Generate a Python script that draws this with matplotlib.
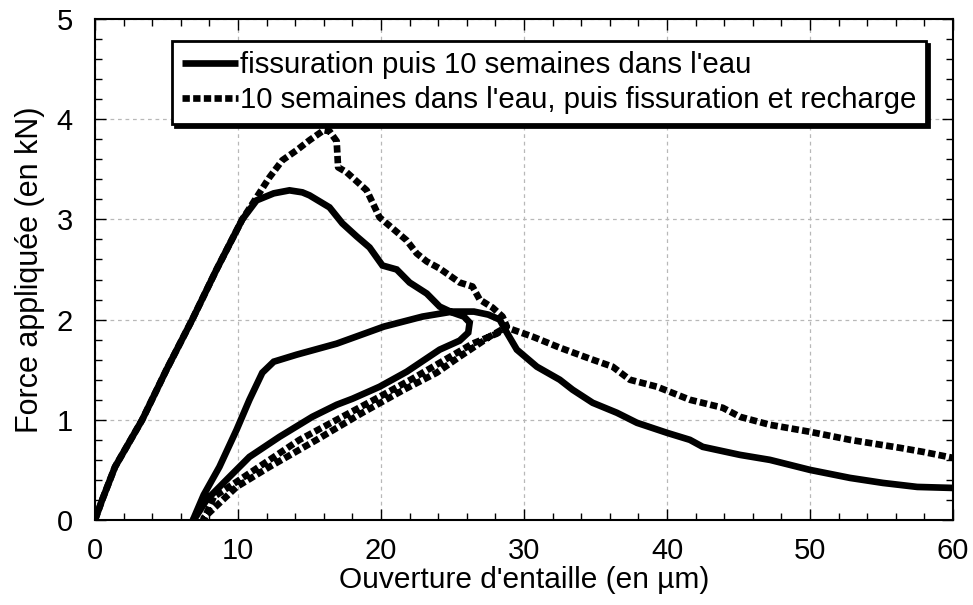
import matplotlib
matplotlib.use("Agg")
import matplotlib.pyplot as plt
from matplotlib.ticker import MultipleLocator

plt.rcParams['font.family'] = ['Liberation Sans', 'DejaVu Sans']

# ---- Data ----
# Series 1: "fissuration puis 10 semaines dans l'eau" (solid)
s1_load_x = [0, 0.5, 1.4, 3.3, 5.0, 6.8, 8.5, 10.3, 11.3, 12.5, 13.6, 14.5, 15.0, 16.4,
             17.3, 18.3, 19.2, 20.1, 21.1, 22.0, 23.2, 24.1, 25.0, 25.8, 26.2]
s1_load_y = [0, 0.2, 0.53, 1.0, 1.5, 2.0, 2.5, 3.0, 3.19, 3.26, 3.29, 3.27, 3.24, 3.12,
             2.96, 2.83, 2.72, 2.54, 2.50, 2.37, 2.26, 2.13, 2.07, 2.03, 1.97]
s1_unload_x = [26.1, 25.5, 24.1, 21.8, 19.9, 18.0, 16.9, 15.2, 12.9, 10.8, 9.4, 7.8, 7.0]
s1_unload_y = [1.87, 1.79, 1.70, 1.48, 1.33, 1.21, 1.15, 1.03, 0.83, 0.63, 0.43, 0.20, 0.02]
s1_reload_x = [6.85, 7.6, 8.7, 9.9, 10.8, 11.7, 12.5, 14.1, 16.9, 20.2, 22.9, 25.0, 26.5,
               27.5, 28.3]
s1_reload_y = [0.0, 0.25, 0.53, 0.90, 1.20, 1.47, 1.58, 1.65, 1.76, 1.93, 2.03, 2.08, 2.08,
               2.05, 2.0]
s1_tail_x = [28.8, 29.5, 30.9, 32.5, 33.4, 34.8, 36.5, 37.9, 40.0, 41.6, 42.5, 45.1, 47.2,
             48.6, 50.0, 52.8, 55.1, 57.5, 60.0]
s1_tail_y = [1.87, 1.70, 1.53, 1.40, 1.30, 1.17, 1.07, 0.97, 0.87, 0.80, 0.73, 0.65, 0.60,
             0.55, 0.50, 0.42, 0.37, 0.33, 0.32]

# Series 2: "10 semaines dans l'eau, puis fissuration et recharge" (dashed)
s2_load_x = [0, 0.5, 1.4, 3.3, 5.0, 6.8, 8.5, 10.3, 11.3, 12.2, 13.1, 14.1, 15.0, 16.0,
             16.4, 16.9, 17.0, 17.6, 19.0, 19.9, 20.4, 21.8, 22.5, 23.2, 24.1, 25.5, 26.4,
             26.9, 27.8, 28.5, 28.8]
s2_load_y = [0, 0.2, 0.53, 1.0, 1.5, 2.0, 2.5, 3.0, 3.22, 3.42, 3.59, 3.69, 3.79, 3.89,
             3.88, 3.78, 3.52, 3.47, 3.29, 3.02, 2.96, 2.79, 2.66, 2.58, 2.51, 2.37, 2.33,
             2.20, 2.12, 2.03, 1.93]
s2_unload_x = [27.6, 25.5, 23.9, 21.6, 18.7, 15.5, 12.2, 9.9, 7.6]
s2_unload_y = [1.83, 1.63, 1.47, 1.30, 1.07, 0.80, 0.53, 0.33, 0.02]
s2_reload_x = [7.6, 8.3, 10.1, 12.2, 14.3, 16.9, 19.9, 22.2, 24.6, 26.4, 28.1, 28.8]
s2_reload_y = [0.0, 0.23, 0.40, 0.60, 0.80, 1.00, 1.23, 1.41, 1.61, 1.76, 1.86, 1.92]
s2_tail_x = [30.6, 32.5, 34.6, 36.2, 37.4, 39.3, 41.6, 43.9, 45.1, 47.2, 50.0, 52.8,
             56.3, 57.9, 60.0]
s2_tail_y = [1.83, 1.72, 1.61, 1.53, 1.40, 1.33, 1.20, 1.12, 1.03, 0.95, 0.88, 0.80,
             0.72, 0.68, 0.62]

labels = ["fissuration puis 10 semaines dans l'eau",
          "10 semaines dans l'eau, puis fissuration et recharge"]
x_ticks = [0, 10, 20, 30, 40, 50, 60]
y_ticks = [0, 1, 2, 3, 4, 5]

s1_x = s1_load_x + s1_unload_x + s1_reload_x + s1_tail_x
s1_y = s1_load_y + s1_unload_y + s1_reload_y + s1_tail_y
s2_x = s2_load_x + s2_unload_x + s2_reload_x + s2_tail_x
s2_y = s2_load_y + s2_unload_y + s2_reload_y + s2_tail_y

# ---- Figure ----
fig = plt.figure(figsize=(9.73, 6.05), dpi=100)
ax = fig.add_axes([95 / 973, 85 / 605, 858 / 973, 501 / 605])

ax.plot(s1_x, s1_y, color='black', lw=4.8, solid_joinstyle='miter',
        solid_capstyle='butt', label=labels[0], zorder=3)
ax.plot(s2_x, s2_y, color='black', lw=4.8, linestyle=(0, (1.1, 0.5)),
        dash_capstyle='butt', label=labels[1], zorder=3)

ax.set_xlim(0, 60)
ax.set_ylim(0, 5)
ax.set_xticks(x_ticks)
ax.set_yticks(y_ticks)
ax.xaxis.set_minor_locator(MultipleLocator(2))
ax.yaxis.set_minor_locator(MultipleLocator(0.2))
ax.tick_params(which='both', direction='in', top=True, right=True, color='black')
ax.tick_params(which='major', length=8, width=1, labelsize=21, pad=12)
ax.tick_params(which='minor', length=5, width=1)
ax.tick_params(axis='y', which='major', pad=16)
ax.grid(True, which='major', color='#b8b8b8', linestyle=(0, (3, 3)), lw=0.9)
for sp in ax.spines.values():
    sp.set_linewidth(1.5)

ax.set_xlabel("Ouverture d'entaille (en µm)", fontsize=21.5, labelpad=1)
ax.set_ylabel("Force appliquée (en kN)", fontsize=22, labelpad=8)

leg = ax.legend(loc='upper left', bbox_to_anchor=(0.0897, 0.956), fontsize=21.2,
                frameon=True, fancybox=False, edgecolor='black',
                shadow={'color': 'black', 'alpha': 1.0},
                handlelength=1.9, handletextpad=0.05, labelspacing=0.22,
                borderpad=0.35, borderaxespad=0)
leg.get_frame().set_linewidth(2)
leg.get_frame().set_alpha(1)

fig.savefig("out.png", dpi=100)
